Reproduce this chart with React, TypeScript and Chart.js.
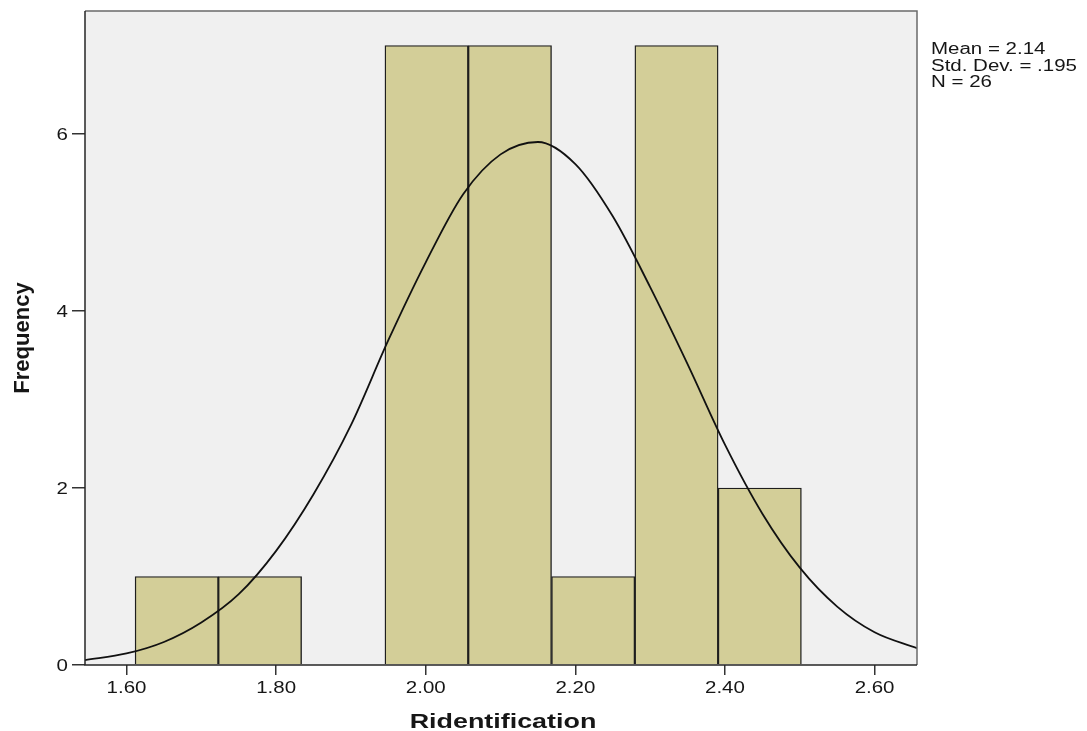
import { useEffect, useRef } from "react"
import { Chart, registerables } from "chart.js"

// histogram bins (centres) and counts
const binCenters = [1.6671, 1.7784, 1.8898, 2.0011, 2.1125, 2.2238, 2.3352, 2.4465]
const binCounts = [1, 1, 0, 7, 7, 1, 7, 2]

// normal curve, points
const curveX = [1.5445, 1.6, 1.65, 1.7, 1.75, 1.8, 1.85, 1.9, 1.95, 2.0, 2.05, 2.1, 2.15, 2.2, 2.25, 2.3, 2.35, 2.4, 2.45, 2.5, 2.55, 2.6, 2.6567]
const curveY = [0.056, 0.13, 0.26, 0.48, 0.8, 1.29, 1.93, 2.71, 3.67, 4.55, 5.32, 5.77, 5.91, 5.66, 5.07, 4.27, 3.4, 2.49, 1.71, 1.1, 0.66, 0.37, 0.19]

const xTicks = [1.6, 1.8, 2.0, 2.2, 2.4, 2.6]
const yTicks = [0, 2, 4, 6]
const statLines = ["Mean = 2.14", "Std. Dev. = .195", "N = 26"]
const xTitle = "Ridentification"
const yTitle = "Frequency"

const STRETCH = 1.28

const drawText = (ctx: CanvasRenderingContext2D, text: string, x: number, y: number, font: string, align: CanvasTextAlign, sx: number, rot = 0) => {
  ctx.save()
  ctx.font = font
  ctx.fillStyle = "#161616"
  ctx.textAlign = align
  ctx.textBaseline = "alphabetic"
  ctx.translate(x, y)
  if (rot) ctx.rotate(rot)
  ctx.scale(sx, 1)
  ctx.fillText(text, 0, 0)
  ctx.restore()
}

const spssLook = {
  id: "spssLook",
  beforeDraw(chart: any) {
    const { ctx, chartArea: a } = chart
    ctx.save()
    ctx.fillStyle = "#f0f0f0"
    ctx.fillRect(a.left, a.top, a.right - a.left, a.bottom - a.top)
    ctx.restore()
  },
  afterDraw(chart: any) {
    const { ctx, chartArea: a, scales } = chart
    ctx.save()
    ctx.lineWidth = 1.5
    ctx.strokeStyle = "#6a6a6a"
    ctx.beginPath()
    ctx.moveTo(a.left, a.top)
    ctx.lineTo(a.right, a.top)
    ctx.lineTo(a.right, a.bottom)
    ctx.stroke()
    ctx.strokeStyle = "#262626"
    ctx.beginPath()
    ctx.moveTo(a.left, a.top)
    ctx.lineTo(a.left, a.bottom)
    ctx.lineTo(a.right, a.bottom)
    ctx.stroke()
    ctx.restore()

    const tickFont = "16px 'Liberation Sans', Arial, sans-serif"
    xTicks.forEach((v) => {
      drawText(ctx, v.toFixed(2), scales.x.getPixelForValue(v), 693, tickFont, "center", STRETCH)
    })
    yTicks.forEach((v) => {
      drawText(ctx, String(v), 68, scales.y.getPixelForValue(v) + 6, tickFont, "right", STRETCH)
    })
    drawText(ctx, xTitle, 503, 728, "bold 21px 'Liberation Sans', Arial, sans-serif", "center", STRETCH)
    drawText(ctx, yTitle, 29, (a.top + a.bottom) / 2, "bold 22px 'Liberation Sans', Arial, sans-serif", "center", 1, -Math.PI / 2)
    statLines.forEach((t, i) => {
      drawText(ctx, t, 931, 54 + i * 16.6, "16px 'Liberation Sans', Arial, sans-serif", "left", STRETCH)
    })
  },
}

const App = () => {
  const canvasRef = useRef<HTMLCanvasElement>(null)

  useEffect(() => {
    Chart.register(...registerables)
    if (!canvasRef.current) return
    const c = new Chart(canvasRef.current, {
      type: "bar",
      data: {
        datasets: [
          {
            type: "line",
            data: curveX.map((x, i) => ({ x, y: curveY[i] })),
            borderColor: "#111111",
            borderWidth: 1.8,
            pointRadius: 0,
            fill: false,
            cubicInterpolationMode: "monotone",
            capBezierPoints: false,
            order: 0,
          },
          {
            type: "bar",
            data: binCenters.map((x, i) => ({ x, y: binCounts[i] })),
            backgroundColor: "#d3ce98",
            borderColor: "#1e1e1e",
            borderWidth: 1.4,
            barPercentage: 1,
            categoryPercentage: 1,
            order: 1,
          },
        ] as any,
      },
      options: {
        animation: false,
        responsive: false,
        layout: { padding: { left: 0, top: 11, right: 170, bottom: 0 } },
        plugins: { legend: { display: false }, tooltip: { enabled: false } },
        scales: {
          x: {
            type: "linear",
            min: 1.5445,
            max: 2.6567,
            offset: false,
            afterBuildTicks: (s: any) => { s.ticks = xTicks.map((value) => ({ value })) },
            afterFit: (s: any) => { s.height = 66 },
            ticks: { display: false },
            grid: { drawOnChartArea: false, drawTicks: true, tickLength: 10, color: "#333333", lineWidth: 1.5, offset: false },
            border: { display: false },
          },
          y: {
            type: "linear",
            min: 0,
            max: 7.39,
            afterBuildTicks: (s: any) => { s.ticks = yTicks.map((value) => ({ value })) },
            afterFit: (s: any) => { s.width = 85 },
            ticks: { display: false },
            grid: { drawOnChartArea: false, drawTicks: true, tickLength: 13, color: "#333333", lineWidth: 1.5 },
            border: { display: false },
          },
        },
      } as any,
      plugins: [spssLook],
    })
    return () => {
      c.destroy()
    }
  }, [])

  return (
    <div style={{ position: "absolute", left: 0, top: 0, width: 1087, height: 731, background: "#ffffff" }}>
      <canvas ref={canvasRef} width={1087} height={731} style={{ display: "block" }}></canvas>
    </div>
  )
}

export default App
